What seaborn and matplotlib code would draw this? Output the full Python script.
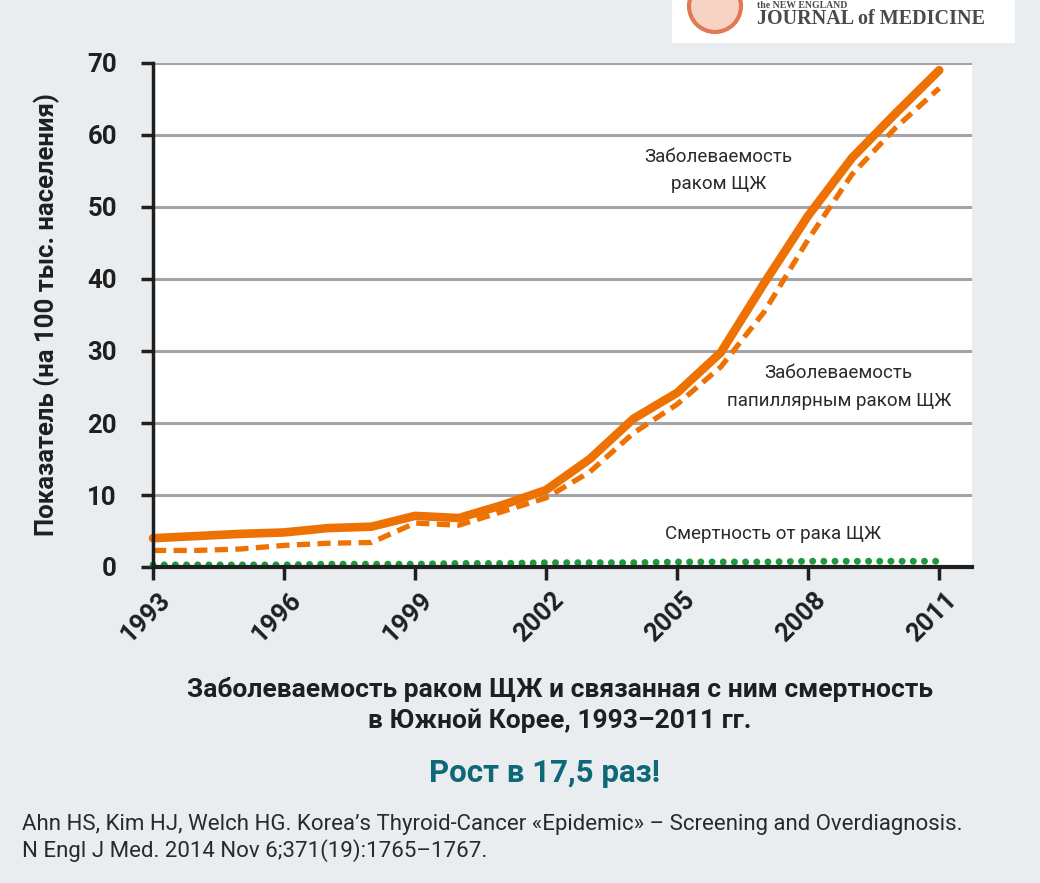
import numpy as np
import pandas as pd
import matplotlib
matplotlib.use("Agg")
import matplotlib.pyplot as plt
from matplotlib.patches import Rectangle, Circle
from matplotlib.transforms import ScaledTranslation
import seaborn as sns

years = list(range(1993, 2012))
incidence_total = [4.0, 4.3, 4.6, 4.8, 5.4, 5.6, 7.1, 6.8, 8.6, 10.7, 15.0, 20.6,
                   24.2, 29.8, 39.5, 48.8, 56.8, 63.0, 69.0]
incidence_papillary = [2.3, 2.3, 2.5, 3.0, 3.3, 3.4, 6.1, 5.8, 7.7, 9.6, 13.2, 18.6,
                       22.6, 27.8, 35.5, 45.5, 54.5, 61.0, 66.5]
mortality = [0.3, 0.3, 0.3, 0.3, 0.4, 0.4, 0.4, 0.5, 0.5, 0.6, 0.6, 0.6, 0.7, 0.7,
             0.7, 0.8, 0.8, 0.8, 0.8]
xtick_years = [1993, 1996, 1999, 2002, 2005, 2008, 2011]
ytick_values = [0, 10, 20, 30, 40, 50, 60, 70]

BG = "#E9EDF0"
ORANGE = "#EE7203"
GREEN = "#1E9A3C"
TEAL = "#0E6878"
GRID = "#A3A3A8"
INK = "#1f1f1f"

sns.set_theme(style="white")
plt.rcParams["font.family"] = ["Roboto", "DejaVu Sans"]

df = pd.DataFrame({
    "year": years,
    "total": incidence_total,
    "papillary": incidence_papillary,
    "mortality": mortality,
})

fig = plt.figure(figsize=(10.4, 8.83), dpi=100, facecolor=BG)
ax = fig.add_axes([153 / 1040, 1 - 567 / 883, (972 - 153) / 1040, (567 - 63) / 883])
ax.set_facecolor("white")

# horizontal grid
for v in ytick_values[1:]:
    ax.axhline(v, color=GRID, lw=2.2, zorder=1)

sns.lineplot(data=df, x="year", y="mortality", ax=ax, color=GREEN, lw=5,
             linestyle=(0, (0.01, 1.6)), dash_capstyle="round", zorder=3)
sns.lineplot(data=df, x="year", y="papillary", ax=ax, color=ORANGE, lw=3.8,
             linestyle=(0, (2.5, 1.4)), zorder=4)
sns.lineplot(data=df, x="year", y="total", ax=ax, color=ORANGE, lw=6.2,
             solid_capstyle="round", solid_joinstyle="round", zorder=5)
for line in ax.lines[-3:]:
    line.set_clip_on(False)

ax.set_xlim(1993, 2011.75)
ax.set_ylim(0, 70)
ax.set_xticks(xtick_years)
ax.set_xticklabels([str(y) for y in xtick_years], rotation=45, ha="right",
                   va="center", rotation_mode="anchor", fontsize=18.5,
                   fontweight="bold", color=INK)
ax.set_yticks(ytick_values)
ax.set_yticklabels([str(v) for v in ytick_values], fontsize=18.5, fontweight="bold",
                   color=INK)
ax.tick_params(axis="x", which="major", length=9, width=2.5, color=INK,
               direction="out", pad=0, bottom=True)
ax.tick_params(axis="y", which="major", length=9, width=2.5, color=INK,
               direction="out", pad=17, left=True)
for lbl in ax.get_xticklabels():
    lbl.set_transform(lbl.get_transform() + ScaledTranslation(14 / 100, -17 / 100, fig.dpi_scale_trans))

for side in ["top", "right"]:
    ax.spines[side].set_visible(False)
ax.spines["left"].set_color(INK)
ax.spines["left"].set_linewidth(2.5)
ax.spines["bottom"].set_color(INK)
ax.spines["bottom"].set_linewidth(3)
ax.spines["left"].set_zorder(6)
ax.spines["bottom"].set_zorder(6)
ax.set_xlabel("")
ax.set_ylabel("Показатель (на 100 тыс. населения)", fontsize=18.5, fontweight="bold",
              color=INK)
ax.yaxis.set_label_coords((60 - 153) / 819, 0.5)

# series annotations
ax.text(2005.94, 55.1, "Заболеваемость\nраком ЩЖ", ha="center", va="center",
        fontsize=13.5, color="#2a2a2a", linespacing=1.65)
ax.text(2008.7, 25.0, "Заболеваемость\nпапиллярным раком ЩЖ", ha="center",
        va="center", fontsize=13.5, color="#2a2a2a", linespacing=1.65)
ax.text(2007.2, 4.6, "Смертность от рака ЩЖ", ha="center", va="center",
        fontsize=13.5, color="#2a2a2a")

# titles and source
fig.text(560 / 1040, 1 - 705 / 883,
         "Заболеваемость раком ЩЖ и связанная с ним смертность\nв Южной Корее, 1993–2011 гг.",
         ha="center", va="center", fontsize=19, fontweight="bold", color=INK,
         linespacing=1.37)
fig.text(545 / 1040, 1 - 773 / 883, "Рост в 17,5 раз!", ha="center", va="center",
         fontsize=22.5, fontweight="bold", color=TEAL)
fig.text(22 / 1040, 1 - 838 / 883,
         "Ahn HS, Kim HJ, Welch HG. Korea’s Thyroid-Cancer «Epidemic» – Screening and Overdiagnosis.\n"
         "N Engl J Med. 2014 Nov 6;371(19):1765–1767.",
         ha="left", va="center", fontsize=16, color="#2a2a2a", linespacing=1.25)

# journal badge
fig.patches.append(Rectangle((672 / 1040, 1 - 43 / 883), (1015 - 672) / 1040, 43 / 883,
                             transform=fig.transFigure, facecolor="white",
                             edgecolor="none", zorder=0))
fig.patches.append(Circle((7.15, 8.83 - 0.06), 0.26, transform=fig.dpi_scale_trans,
                          facecolor="#F6D3C2", edgecolor="#E07A55", lw=3, zorder=1))
fig.text(757 / 1040, 1 - 19 / 883, "JOURNAL of MEDICINE", ha="left", va="center",
         fontsize=14.5, fontweight="bold", color="#4a4a4a",
         family=["Liberation Serif", "DejaVu Serif"])
fig.text(757 / 1040, 1 - 1 / 883, "the NEW ENGLAND", ha="left", va="top",
         fontsize=7, fontweight="bold", color="#4a4a4a",
         family=["Liberation Serif", "DejaVu Serif"])

fig.savefig("out.png", dpi=100, facecolor=BG)
